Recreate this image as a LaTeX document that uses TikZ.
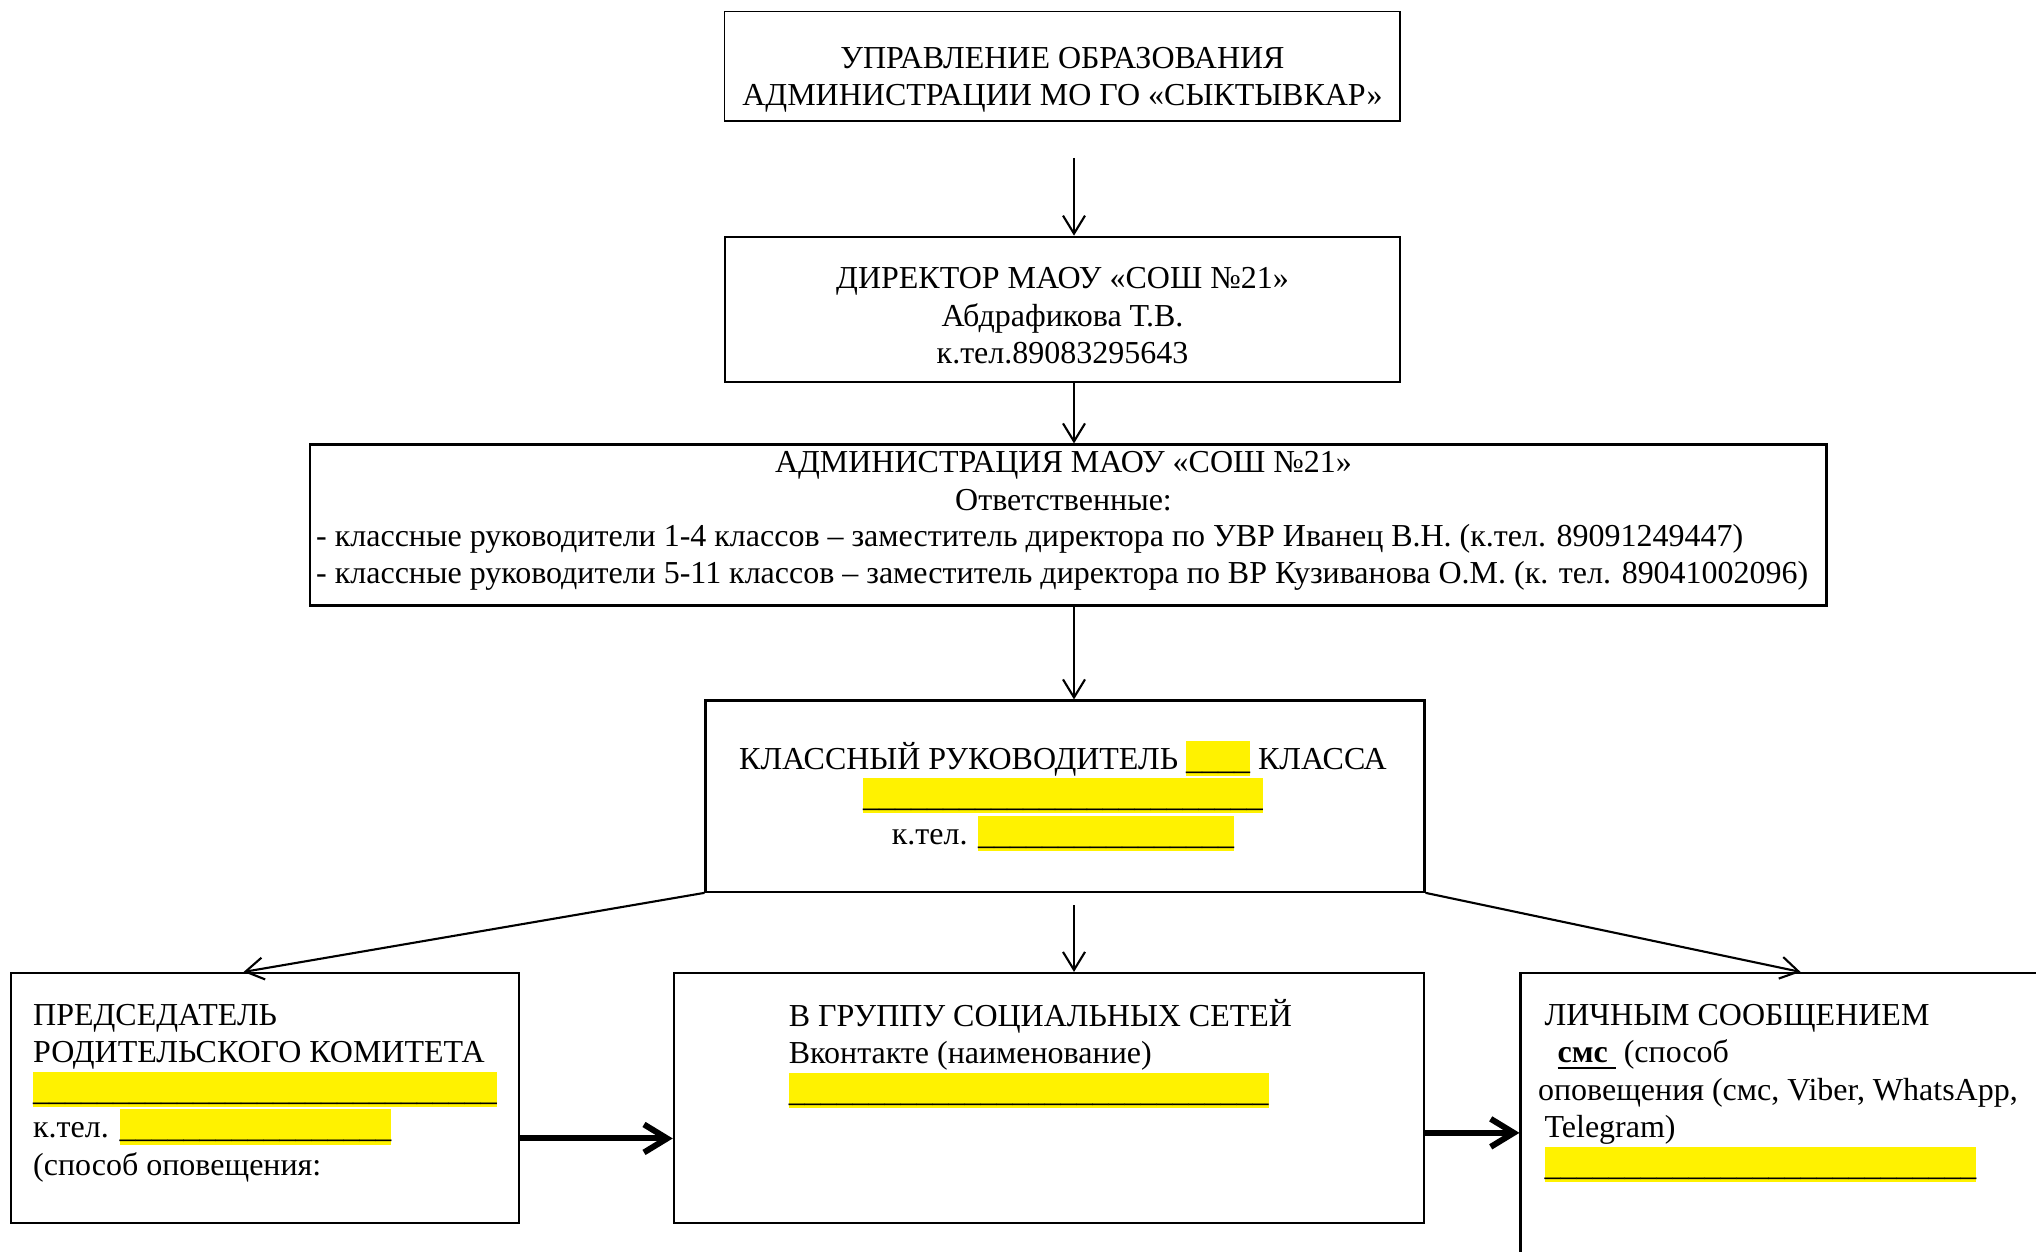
\documentclass[tikz,border=0pt]{standalone}
\usepackage{fontspec}
\setmainfont{Liberation Serif}
\usepackage{tikz}
\usetikzlibrary{positioning,arrows.meta}

\newcommand\blank[1]{\smash{\fboxsep=0pt\colorbox{yellow}{\rule[-0.216em]{0pt}{1.107em}\foreach\k in {1,...,#1}{\_}}}}

\begin{document}
\begin{tikzpicture}[x=0.1mm, y=-0.1mm, >={Straight Barb[length=1.8mm,width=2.2mm]}]
\tikzstyle{box}=[draw, line width=0.6pt, inner sep=0pt]
\tikzstyle{txt}=[inner sep=0pt, font=\fontsize{9.1pt}{10.67pt}\selectfont]
\tikzstyle{arr}=[line width=0.6pt,->]
\tikzstyle{fat}=[line width=1.7pt,-{Straight Barb[length=2.3mm,width=2.8mm]}]
\fill[white] (0,0) rectangle (2036,1252);
\clip (0,0) rectangle (2036,1252);
% boxes
\node[box, line width=0.4pt, minimum width=67.52mm, minimum height=10.91mm] (upr) at (1062.2,66.25) {};
\node[box, minimum width=67.52mm, minimum height=14.55mm] (dir) at (1062.2,309.45) {};
\node[box, minimum width=151.65mm, minimum height=16.1mm] (adm) at (1068.25,525) {};
\node[box, minimum width=71.9mm, minimum height=19.13mm] (kl) at (1065,796.15) {};
\node[box, minimum width=50.78mm, minimum height=24.97mm] (pred) at (264.9,1097.85) {};
\node[box, minimum width=75.05mm, minimum height=24.97mm] (grp) at (1049.05,1097.85) {};
\node[box, minimum width=57.95mm, minimum height=32.7mm] (lich) at (1810.25,1136.5) {};
% texts
\node[txt, align=center, anchor=north] (upr-t) at (1062.5,41.25)
  {\strut УПРАВЛЕНИЕ ОБРАЗОВАНИЯ\\\strut АДМИНИСТРАЦИИ МО ГО «СЫКТЫВКАР»};
\node[txt, align=center, anchor=north] (dir-t) at (1062.5,261.75)
  {\strut ДИРЕКТОР МАОУ «СОШ №21»\\\strut Абдрафикова Т.В.\\\strut к.тел.89083295643};
\node[txt, align=center, anchor=north] (adm-t) at (1063.5,446)
  {\strut АДМИНИСТРАЦИЯ МАОУ «СОШ №21»\\\strut Ответственные:};
\node[txt, align=left, anchor=north west] (adm-l) at (315.5,519.2)
  {\strut - классные руководители 1-4 классов – заместитель директора по УВР Иванец В.Н. (к.тел. 89091249447)\\
   \strut - классные руководители 5-11 классов – заместитель директора по ВР Кузиванова О.М. (к. тел. 89041002096)};
\node[txt, align=center, anchor=north] (kl-t) at (1063,741.2)
  {\strut КЛАССНЫЙ РУКОВОДИТЕЛЬ \blank{4} КЛАССА\\\strut\blank{25}\\\strut к.тел. \blank{16}};
\node[txt, align=left, anchor=north west] (pred-t) at (32.5,998.3)
  {\strut ПРЕДСЕДАТЕЛЬ\\\strut РОДИТЕЛЬСКОГО КОМИТЕТА\\\strut\blank{29}\\\strut к.тел. \blank{17}\\\strut (способ оповещения:};
\node[txt, align=left, anchor=north west] (grp-t) at (788.2,998.3)
  {\strut В ГРУППУ СОЦИАЛЬНЫХ СЕТЕЙ\\\strut Вконтакте (наименование)\\\strut\blank{30}};
\node[txt, align=left, anchor=north west] (lich-t) at (1537.4,998.3)
  {\strut\hspace*{0.65mm}ЛИЧНЫМ СООБЩЕНИЕМ\\
   \strut\hspace*{1.95mm}\underline{\textbf{смс\ }}\ (способ\\
   \strut оповещения (смс, Viber, WhatsApp,\\
   \strut\hspace*{0.65mm}Telegram)\\
   \strut\hspace*{0.65mm}\blank{27}};
% arrows
\coordinate (a1) at (1074,158);
\coordinate (a4) at (1074,905);
\draw[arr] (a1) -- (a1 |- dir.north);
\draw[arr] (dir.south -| a1) -- (adm.north -| a1);
\draw[arr] (adm.south -| a1) -- (kl.north -| a1);
\draw[arr] (a4) -- (a4 |- grp.north);
\draw[arr] (kl.south west) -- ([xshift=23.36mm]pred.north west);
\draw[arr] (kl.south east) -- ([xshift=28.11mm]lich.north west);
\draw[fat] ([yshift=-4.06mm]pred.east) -- ([yshift=-4.06mm]grp.west);
\draw[fat] ([yshift=-3.5mm]grp.east) -- ([yshift=-3.5mm]grp.east -| lich.west);
\end{tikzpicture}
\end{document}
